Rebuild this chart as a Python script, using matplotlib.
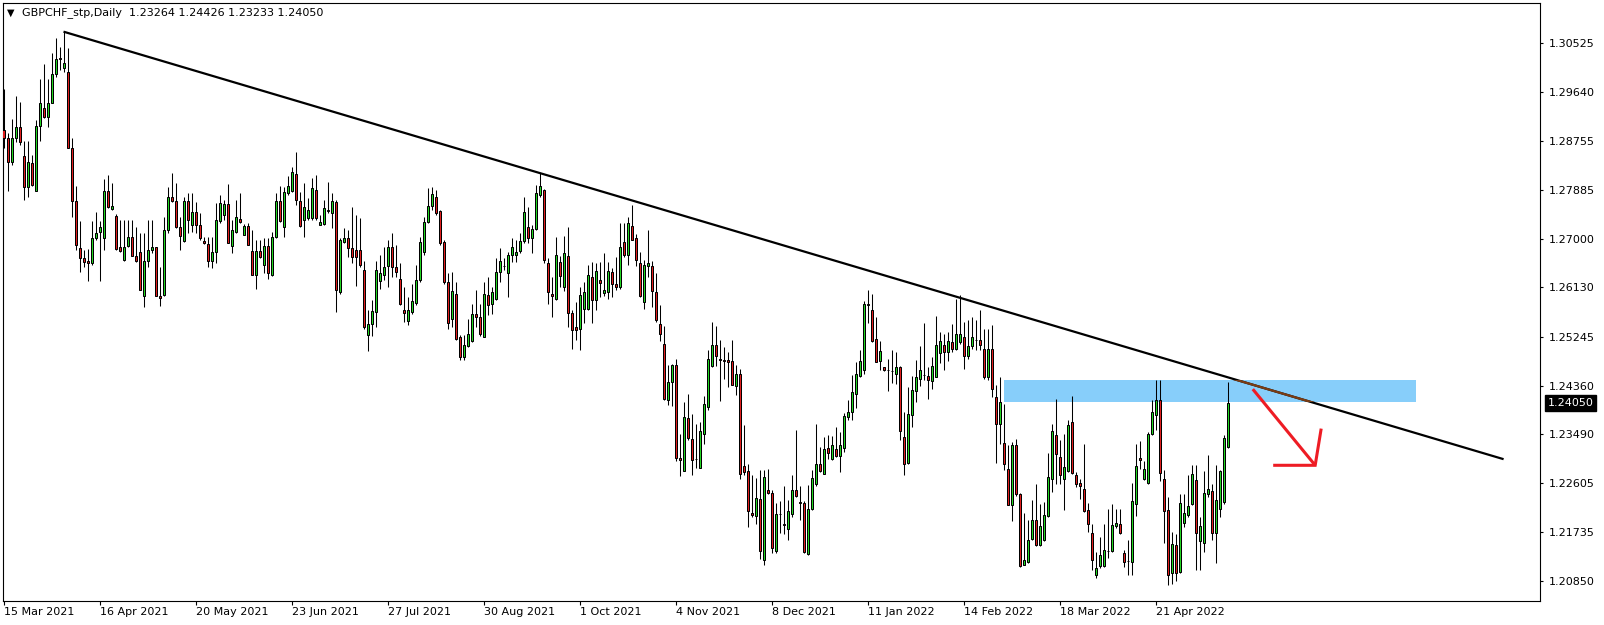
import numpy as np
import matplotlib
matplotlib.use('Agg')
import matplotlib.pyplot as plt
import matplotlib.patches as patches

# GBPCHF daily bars (one value per bar, left to right)
opens = [
    1.2897, 1.2881, 1.2838, 1.2881, 1.2901, 1.2850, 1.2794, 1.2836, 1.2787, 1.2904,
    1.2935, 1.2920, 1.2945, 1.2996, 1.3026, 1.3008, 1.3001, 1.2864, 1.2769, 1.2684,
    1.2665, 1.2660, 1.2656, 1.2701, 1.2712, 1.2701, 1.2787, 1.2754, 1.2742, 1.2685,
    1.2662, 1.2688, 1.2704, 1.2670, 1.2677, 1.2597, 1.2660, 1.2681, 1.2685, 1.2598,
    1.2600, 1.2717, 1.2775, 1.2768, 1.2721, 1.2696, 1.2768, 1.2726, 1.2748, 1.2725,
    1.2697, 1.2691, 1.2660, 1.2676, 1.2732, 1.2744, 1.2763, 1.2687, 1.2713, 1.2736,
    1.2708, 1.2724, 1.2678, 1.2636, 1.2678, 1.2653, 1.2687, 1.2635, 1.2703, 1.2769,
    1.2721, 1.2782, 1.2787, 1.2817, 1.2768, 1.2734, 1.2737, 1.2738, 1.2789, 1.2726,
    1.2727, 1.2753, 1.2746, 1.2766, 1.2604, 1.2695, 1.2702, 1.2683, 1.2680, 1.2680,
    1.2644, 1.2528, 1.2547, 1.2569, 1.2625, 1.2636, 1.2651, 1.2686, 1.2649, 1.2629,
    1.2572, 1.2553, 1.2569, 1.2585, 1.2626, 1.2677, 1.2730, 1.2759, 1.2776, 1.2751,
    1.2694, 1.2623, 1.2557, 1.2601, 1.2523, 1.2488, 1.2507, 1.2516, 1.2566, 1.2559,
    1.2524, 1.2599, 1.2583, 1.2593, 1.2641, 1.2651, 1.2639, 1.2672, 1.2672, 1.2679,
    1.2696, 1.2722, 1.2701, 1.2718, 1.2779, 1.2789, 1.2657, 1.2602, 1.2593, 1.2659,
    1.2613, 1.2669, 1.2567, 1.2541, 1.2539, 1.2575, 1.2575, 1.2632, 1.2590, 1.2626,
    1.2603, 1.2605, 1.2641, 1.2619, 1.2613, 1.2694, 1.2671, 1.2723, 1.2701, 1.2656,
    1.2587, 1.2651, 1.2652, 1.2604, 1.2548, 1.2511, 1.2411, 1.2442, 1.2473, 1.2307,
    1.2283, 1.2378, 1.2341, 1.2305, 1.2289, 1.2350, 1.2398, 1.2472, 1.2510, 1.2484,
    1.2482, 1.2482, 1.2480, 1.2435, 1.2458, 1.2292, 1.2282, 1.2208, 1.2202, 1.2233,
    1.2122, 1.2249, 1.2243, 1.2139, 1.2206, 1.2188, 1.2179, 1.2206, 1.2249, 1.2227,
    1.2226, 1.2134, 1.2215, 1.2260, 1.2295, 1.2278, 1.2325, 1.2305, 1.2323, 1.2310,
    1.2325, 1.2380, 1.2389, 1.2422, 1.2454, 1.2465, 1.2583, 1.2573, 1.2521, 1.2481,
    1.2469, 1.2464, 1.2463, 1.2458, 1.2470, 1.2343, 1.2297, 1.2384, 1.2426, 1.2449,
    1.2455, 1.2454, 1.2445, 1.2452, 1.2495, 1.2510, 1.2496, 1.2514, 1.2503, 1.2515,
    1.2524, 1.2489, 1.2507, 1.2519, 1.2519, 1.2503, 1.2451, 1.2502, 1.2415, 1.2368,
    1.2334, 1.2287, 1.2222, 1.2330, 1.2242, 1.2114, 1.2119, 1.2161, 1.2194, 1.2149,
    1.2159, 1.2201, 1.2269, 1.2347, 1.2308, 1.2269, 1.2283, 1.2370, 1.2276, 1.2262,
    1.2251, 1.2212, 1.2172, 1.2095, 1.2111, 1.2111, 1.2139, 1.2139, 1.2183, 1.2188,
    1.2135, 1.2120, 1.2119, 1.2224, 1.2307, 1.2269, 1.2261, 1.2350, 1.2384, 1.2410,
    1.2269, 1.2212, 1.2099, 1.2149, 1.2101, 1.2189, 1.2204, 1.2224, 1.2266, 1.2157,
    1.2153, 1.2242, 1.2246, 1.2172, 1.2215, 1.2227, 1.23264,
]
highs = [
    1.2970, 1.2890, 1.2916, 1.2957, 1.2946, 1.2876, 1.2876, 1.2851, 1.2914, 1.2987,
    1.3014, 1.2987, 1.3035, 1.3061, 1.3045, 1.3073, 1.3044, 1.2882, 1.2795, 1.2732,
    1.2681, 1.2682, 1.2732, 1.2749, 1.2732, 1.2808, 1.2816, 1.2800, 1.2745, 1.2734,
    1.2734, 1.2734, 1.2734, 1.2722, 1.2710, 1.2710, 1.2734, 1.2734, 1.2686, 1.2650,
    1.2740, 1.2794, 1.2818, 1.2800, 1.2740, 1.2776, 1.2782, 1.2782, 1.2767, 1.2746,
    1.2704, 1.2704, 1.2703, 1.2764, 1.2780, 1.2770, 1.2799, 1.2734, 1.2770, 1.2783,
    1.2727, 1.2728, 1.2717, 1.2698, 1.2698, 1.2701, 1.2701, 1.2713, 1.2783, 1.2796,
    1.2794, 1.2814, 1.2830, 1.2856, 1.2785, 1.2801, 1.2773, 1.2809, 1.2815, 1.2743,
    1.2770, 1.2803, 1.2782, 1.2770, 1.2701, 1.2719, 1.2716, 1.2757, 1.2743, 1.2738,
    1.2661, 1.2572, 1.2591, 1.2660, 1.2671, 1.2686, 1.2698, 1.2711, 1.2689, 1.2656,
    1.2614, 1.2596, 1.2619, 1.2653, 1.2703, 1.2740, 1.2791, 1.2793, 1.2788, 1.2753,
    1.2698, 1.2639, 1.2641, 1.2623, 1.2527, 1.2527, 1.2557, 1.2584, 1.2608, 1.2584,
    1.2623, 1.2632, 1.2614, 1.2665, 1.2683, 1.2665, 1.2677, 1.2701, 1.2698, 1.2711,
    1.2776, 1.2757, 1.2725, 1.2797, 1.2818, 1.2790, 1.2665, 1.2632, 1.2704, 1.2669,
    1.2705, 1.2722, 1.2573, 1.2587, 1.2614, 1.2623, 1.2654, 1.2659, 1.2657, 1.2659,
    1.2675, 1.2659, 1.2647, 1.2668, 1.2728, 1.2728, 1.2740, 1.2761, 1.2709, 1.2677,
    1.2662, 1.2716, 1.2660, 1.2638, 1.2581, 1.2543, 1.2474, 1.2476, 1.2484, 1.2350,
    1.2406, 1.2422, 1.2386, 1.2367, 1.2371, 1.2417, 1.2501, 1.2550, 1.2543, 1.2518,
    1.2505, 1.2497, 1.2518, 1.2473, 1.2466, 1.2365, 1.2296, 1.2275, 1.2271, 1.2284,
    1.2284, 1.2287, 1.2248, 1.2225, 1.2228, 1.2255, 1.2230, 1.2275, 1.2356, 1.2255,
    1.2228, 1.2257, 1.2284, 1.2368, 1.2326, 1.2344, 1.2347, 1.2345, 1.2362, 1.2353,
    1.2387, 1.2410, 1.2455, 1.2479, 1.2500, 1.2589, 1.2608, 1.2601, 1.2560, 1.2516,
    1.2470, 1.2485, 1.2501, 1.2497, 1.2471, 1.2388, 1.2434, 1.2454, 1.2482, 1.2507,
    1.2549, 1.2470, 1.2488, 1.2561, 1.2533, 1.2530, 1.2532, 1.2548, 1.2593, 1.2599,
    1.2551, 1.2555, 1.2559, 1.2554, 1.2573, 1.2539, 1.2539, 1.2545, 1.2437, 1.2451,
    1.2404, 1.2329, 1.2335, 1.2341, 1.2243, 1.2207, 1.2194, 1.2230, 1.2260, 1.2224,
    1.2227, 1.2315, 1.2368, 1.2413, 1.2338, 1.2350, 1.2374, 1.2417, 1.2281, 1.2269,
    1.2332, 1.2225, 1.2188, 1.2137, 1.2164, 1.2188, 1.2215, 1.2224, 1.2215, 1.2215,
    1.2140, 1.2158, 1.2261, 1.2332, 1.2336, 1.2300, 1.2353, 1.2410, 1.2446, 1.2446,
    1.2284, 1.2236, 1.2173, 1.2170, 1.2242, 1.2242, 1.2275, 1.2293, 1.2293, 1.2200,
    1.2283, 1.2311, 1.2260, 1.2293, 1.2285, 1.2347, 1.24426,
]
lows = [
    1.2864, 1.2787, 1.2833, 1.2875, 1.2870, 1.2771, 1.2776, 1.2796, 1.2787, 1.2876,
    1.2917, 1.2902, 1.2944, 1.2991, 1.3004, 1.3001, 1.2863, 1.2740, 1.2681, 1.2640,
    1.2650, 1.2625, 1.2653, 1.2698, 1.2624, 1.2681, 1.2755, 1.2752, 1.2680, 1.2677,
    1.2661, 1.2686, 1.2669, 1.2659, 1.2608, 1.2578, 1.2650, 1.2674, 1.2597, 1.2579,
    1.2598, 1.2710, 1.2767, 1.2719, 1.2680, 1.2695, 1.2710, 1.2713, 1.2710, 1.2698,
    1.2691, 1.2649, 1.2647, 1.2656, 1.2728, 1.2734, 1.2692, 1.2675, 1.2710, 1.2728,
    1.2707, 1.2689, 1.2635, 1.2611, 1.2665, 1.2638, 1.2629, 1.2633, 1.2701, 1.2731,
    1.2704, 1.2779, 1.2785, 1.2761, 1.2722, 1.2704, 1.2735, 1.2735, 1.2734, 1.2725,
    1.2726, 1.2746, 1.2719, 1.2568, 1.2602, 1.2692, 1.2668, 1.2657, 1.2615, 1.2650,
    1.2539, 1.2499, 1.2526, 1.2541, 1.2611, 1.2627, 1.2614, 1.2632, 1.2632, 1.2581,
    1.2551, 1.2545, 1.2566, 1.2581, 1.2623, 1.2671, 1.2728, 1.2752, 1.2743, 1.2689,
    1.2620, 1.2539, 1.2542, 1.2519, 1.2483, 1.2482, 1.2506, 1.2515, 1.2542, 1.2526,
    1.2523, 1.2563, 1.2566, 1.2590, 1.2623, 1.2644, 1.2596, 1.2659, 1.2659, 1.2674,
    1.2692, 1.2692, 1.2674, 1.2716, 1.2776, 1.2656, 1.2584, 1.2560, 1.2590, 1.2614,
    1.2607, 1.2542, 1.2503, 1.2518, 1.2501, 1.2549, 1.2572, 1.2549, 1.2572, 1.2596,
    1.2597, 1.2593, 1.2596, 1.2609, 1.2611, 1.2668, 1.2653, 1.2698, 1.2651, 1.2596,
    1.2575, 1.2632, 1.2578, 1.2551, 1.2517, 1.2410, 1.2401, 1.2399, 1.2301, 1.2274,
    1.2282, 1.2338, 1.2276, 1.2289, 1.2288, 1.2332, 1.2393, 1.2470, 1.2472, 1.2409,
    1.2449, 1.2434, 1.2437, 1.2419, 1.2269, 1.2275, 1.2182, 1.2200, 1.2188, 1.2125,
    1.2113, 1.2241, 1.2135, 1.2135, 1.2171, 1.2170, 1.2158, 1.2200, 1.2236, 1.2194,
    1.2135, 1.2131, 1.2213, 1.2255, 1.2281, 1.2277, 1.2305, 1.2303, 1.2308, 1.2281,
    1.2317, 1.2374, 1.2374, 1.2396, 1.2452, 1.2457, 1.2549, 1.2515, 1.2478, 1.2464,
    1.2463, 1.2427, 1.2441, 1.2440, 1.2338, 1.2276, 1.2296, 1.2362, 1.2407, 1.2435,
    1.2446, 1.2413, 1.2431, 1.2451, 1.2477, 1.2464, 1.2481, 1.2497, 1.2500, 1.2512,
    1.2467, 1.2485, 1.2503, 1.2500, 1.2500, 1.2449, 1.2446, 1.2415, 1.2297, 1.2332,
    1.2284, 1.2221, 1.2193, 1.2237, 1.2110, 1.2113, 1.2117, 1.2158, 1.2147, 1.2147,
    1.2157, 1.2200, 1.2245, 1.2260, 1.2260, 1.2212, 1.2281, 1.2278, 1.2254, 1.2233,
    1.2209, 1.2173, 1.2105, 1.2091, 1.2109, 1.2110, 1.2126, 1.2137, 1.2180, 1.2170,
    1.2110, 1.2095, 1.2095, 1.2201, 1.2287, 1.2266, 1.2260, 1.2347, 1.2356, 1.2265,
    1.2153, 1.2078, 1.2080, 1.2085, 1.2099, 1.2182, 1.2200, 1.2221, 1.2104, 1.2104,
    1.2137, 1.2236, 1.2158, 1.2117, 1.2200, 1.2224, 1.23233,
]
closes = [
    1.2881, 1.2838, 1.2881, 1.2901, 1.2875, 1.2794, 1.2839, 1.2797, 1.2904, 1.2944,
    1.2920, 1.2945, 1.2996, 1.3023, 1.3024, 1.3016, 1.2864, 1.2769, 1.2690, 1.2666,
    1.2659, 1.2657, 1.2701, 1.2710, 1.2721, 1.2787, 1.2758, 1.2760, 1.2682, 1.2679,
    1.2686, 1.2703, 1.2670, 1.2661, 1.2609, 1.2660, 1.2681, 1.2685, 1.2598, 1.2594,
    1.2717, 1.2775, 1.2769, 1.2721, 1.2705, 1.2768, 1.2734, 1.2749, 1.2726, 1.2701,
    1.2693, 1.2660, 1.2676, 1.2735, 1.2765, 1.2763, 1.2693, 1.2717, 1.2739, 1.2730,
    1.2724, 1.2690, 1.2636, 1.2678, 1.2667, 1.2688, 1.2639, 1.2703, 1.2769, 1.2732,
    1.2784, 1.2796, 1.2820, 1.2771, 1.2724, 1.2757, 1.2753, 1.2791, 1.2737, 1.2730,
    1.2755, 1.2750, 1.2768, 1.2608, 1.2699, 1.2702, 1.2683, 1.2668, 1.2667, 1.2653,
    1.2541, 1.2547, 1.2570, 1.2645, 1.2639, 1.2650, 1.2686, 1.2649, 1.2641, 1.2584,
    1.2567, 1.2572, 1.2589, 1.2626, 1.2694, 1.2730, 1.2759, 1.2781, 1.2747, 1.2692,
    1.2623, 1.2549, 1.2606, 1.2521, 1.2488, 1.2509, 1.2529, 1.2566, 1.2560, 1.2529,
    1.2602, 1.2582, 1.2604, 1.2641, 1.2661, 1.2651, 1.2672, 1.2685, 1.2676, 1.2696,
    1.2748, 1.2701, 1.2718, 1.2782, 1.2796, 1.2663, 1.2605, 1.2598, 1.2672, 1.2633,
    1.2674, 1.2567, 1.2536, 1.2537, 1.2600, 1.2605, 1.2635, 1.2590, 1.2643, 1.2621,
    1.2609, 1.2642, 1.2619, 1.2613, 1.2686, 1.2671, 1.2728, 1.2699, 1.2663, 1.2597,
    1.2653, 1.2656, 1.2607, 1.2554, 1.2530, 1.2412, 1.2442, 1.2473, 1.2306, 1.2303,
    1.2379, 1.2342, 1.2303, 1.2304, 1.2354, 1.2404, 1.2485, 1.2510, 1.2490, 1.2483,
    1.2481, 1.2479, 1.2438, 1.2458, 1.2278, 1.2281, 1.2211, 1.2203, 1.2235, 1.2139,
    1.2272, 1.2243, 1.2145, 1.2206, 1.2205, 1.2185, 1.2211, 1.2249, 1.2238, 1.2226,
    1.2137, 1.2215, 1.2271, 1.2296, 1.2283, 1.2323, 1.2315, 1.2330, 1.2310, 1.2330,
    1.2381, 1.2389, 1.2425, 1.2458, 1.2480, 1.2583, 1.2582, 1.2517, 1.2479, 1.2498,
    1.2464, 1.2464, 1.2463, 1.2470, 1.2355, 1.2296, 1.2386, 1.2429, 1.2452, 1.2464,
    1.2455, 1.2446, 1.2472, 1.2510, 1.2517, 1.2497, 1.2517, 1.2503, 1.2530, 1.2530,
    1.2489, 1.2508, 1.2524, 1.2519, 1.2509, 1.2452, 1.2502, 1.2431, 1.2368, 1.2407,
    1.2296, 1.2222, 1.2330, 1.2242, 1.2111, 1.2123, 1.2159, 1.2194, 1.2149, 1.2183,
    1.2203, 1.2272, 1.2354, 1.2314, 1.2276, 1.2290, 1.2366, 1.2279, 1.2259, 1.2255,
    1.2211, 1.2187, 1.2123, 1.2109, 1.2132, 1.2141, 1.2139, 1.2185, 1.2190, 1.2172,
    1.2119, 1.2120, 1.2229, 1.2292, 1.2303, 1.2287, 1.2350, 1.2388, 1.2411, 1.2279,
    1.2211, 1.2095, 1.2151, 1.2099, 1.2226, 1.2207, 1.2219, 1.2278, 1.2172, 1.2183,
    1.2244, 1.2251, 1.2172, 1.2230, 1.2282, 1.2342, 1.24050,
]

date_labels = ['15 Mar 2021', '16 Apr 2021', '20 May 2021', '23 Jun 2021',
               '27 Jul 2021', '30 Aug 2021', '1 Oct 2021', '4 Nov 2021',
               '8 Dec 2021', '11 Jan 2022', '14 Feb 2022', '18 Mar 2022',
               '21 Apr 2022']
bars_per_label = 24

price_ticks = [1.30525, 1.29640, 1.28755, 1.27885, 1.27000, 1.26130,
               1.25245, 1.24360, 1.23490, 1.22605, 1.21735, 1.20850]

# drawn objects (bar index, price)
trend_x = [15, 375]
trend_y = [1.3073, 1.2304]
zone_x = [250, 353]
zone_y = [1.2406, 1.2446]
arrow_x = [312.3, 327.9]
arrow_y = [1.2430, 1.2293]
head_x = [317.4, 327.9, 329.4]
head_y = [1.2293, 1.2293, 1.2359]

bull = '#22d622'
bear = '#e01e1e'

W, H = 1604, 625
fig = plt.figure(figsize=(W / 100, H / 100), dpi=100)
fig.patch.set_facecolor('white')
# plot frame: x 2.7..1540 px, y 2.7..600.5 px from top
ax = fig.add_axes([2.7 / W, (H - 600.5) / H, (1540 - 2.7) / W, (600.5 - 2.7) / H])
ax.set_facecolor('white')

o = np.array(opens)
hi = np.array(highs)
lo = np.array(lows)
c = np.array(closes)
x = np.arange(len(o))
colors = np.where(c >= o, bull, bear)

# zone behind everything
zone = patches.Rectangle((zone_x[0], zone_y[0]), zone_x[1] - zone_x[0],
                         zone_y[1] - zone_y[0], facecolor='#87cefa',
                         edgecolor='none', zorder=1)
ax.add_patch(zone)

ax.vlines(x, lo, hi, color='black', lw=0.75, zorder=2)
ax.bar(x, c - o, bottom=o, width=0.5, color=colors, edgecolor='black',
       linewidth=0.72, zorder=3)

# trend line, brownish where it crosses the zone
ax.plot(trend_x, trend_y, color='black', lw=1.6, zorder=4, solid_capstyle='butt')
tl, = ax.plot(trend_x, trend_y, color='#7a3c14', lw=1.6, zorder=5,
              solid_capstyle='butt')
tl.set_clip_path(zone)

# red arrow
ax.plot(arrow_x, arrow_y, color='#ee1c24', lw=2.2, zorder=6, solid_capstyle='butt')
ax.plot(head_x, head_y, color='#ee1c24', lw=2.2, zorder=6, solid_capstyle='butt',
        solid_joinstyle='miter')

ax.set_xlim(-0.2, 384.1)
ax.set_ylim(1.20498, 1.31251)

for s in ax.spines.values():
    s.set_color('black')
    s.set_linewidth(0.8)

ax.yaxis.tick_right()
ax.set_yticks(price_ticks)
ax.set_yticklabels(['%.5f' % v for v in price_ticks])
ax.tick_params(axis='y', length=2.5, width=0.8, pad=3.5, labelsize=8,
               colors='black')

ax.set_xticks(np.arange(len(date_labels)) * bars_per_label)
ax.set_xticklabels(date_labels)
for lab in ax.get_xticklabels():
    lab.set_horizontalalignment('left')
ax.tick_params(axis='x', length=3, width=0.8, pad=2, labelsize=8, colors='black')

# current price tag
ax.annotate('%.5f' % closes[-1], xy=(1, closes[-1]),
            xycoords=('axes fraction', 'data'), xytext=(5.5, 0),
            textcoords='offset points', ha='left', va='center', fontsize=8,
            color='white', annotation_clip=False,
            bbox=dict(boxstyle='square,pad=0.25', fc='black', ec='black'))

# header
fig.text(6.5 / W, 1 - 12.5 / H, '\u25bc', fontsize=7, ha='left', va='center')
fig.text(21.5 / W, 1 - 12.7 / H,
         'GBPCHF_stp,Daily  %.5f %.5f %.5f %.5f' % (opens[-1], highs[-1], lows[-1], closes[-1]),
         fontsize=8, ha='left', va='center')

fig.savefig('out.png', dpi=100, facecolor='white')
